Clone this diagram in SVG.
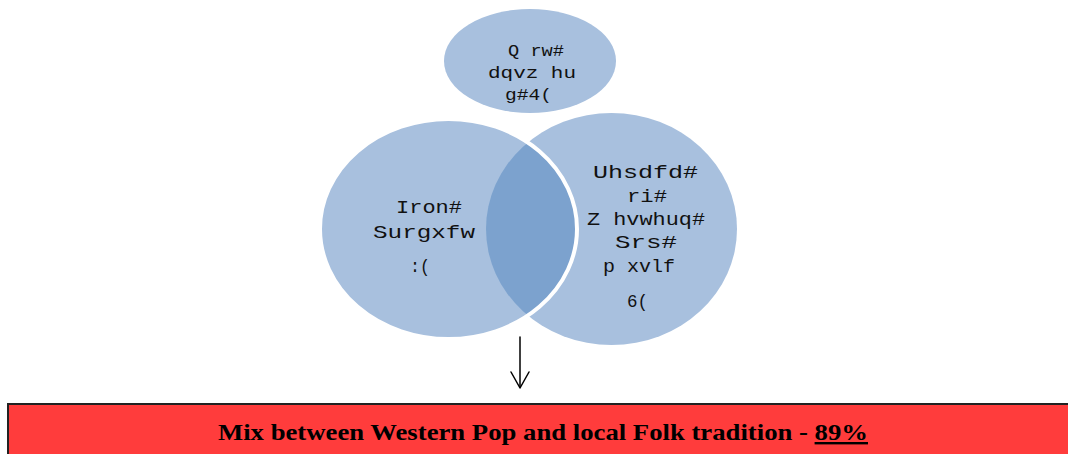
<svg xmlns="http://www.w3.org/2000/svg" width="1068" height="454" viewBox="0 0 1068 454">
  <style>
    .bubble { fill: #A8C0DE; }
    .overlap { fill: #7CA2CE; }
    .rim { fill: none; stroke: #FFFFFF; stroke-width: 4; }
    .lbl { font-family: "Liberation Mono", "DejaVu Sans Mono", monospace; font-size: 19px; fill: #111111; }
    .lbl-sm { font-size: 17px; }
    .wire { fill: none; stroke: #000000; stroke-width: 1.5; stroke-linecap: round; stroke-linejoin: round; }
    .banner { fill: #FF3C3C; stroke: #222222; stroke-width: 2; }
    .banner-text { font-family: "Liberation Serif", "Times New Roman", serif; font-size: 24px; font-weight: bold; fill: #000000; }
  </style>
  <defs>
    <clipPath id="leftClip">
      <ellipse cx="448.5" cy="229" rx="128.5" ry="110"/>
    </clipPath>
  </defs>

  <rect width="1068" height="454" fill="#FFFFFF"/>

  <!-- top bubble -->
  <g id="node-top">
    <ellipse class="bubble" cx="530" cy="61" rx="86" ry="52"/>
    <text class="lbl lbl-sm" x="508" y="56" textLength="56" lengthAdjust="spacingAndGlyphs">Q rw#</text>
    <text class="lbl lbl-sm" x="488" y="78" textLength="88" lengthAdjust="spacingAndGlyphs">dqvz hu</text>
    <text class="lbl lbl-sm" x="505" y="100" textLength="47" lengthAdjust="spacingAndGlyphs">g#4(</text>
  </g>

  <!-- right bubble -->
  <g id="node-right">
    <ellipse class="bubble" cx="611.5" cy="229" rx="125.5" ry="116"/>
    <text class="lbl" x="593" y="178" textLength="105" lengthAdjust="spacingAndGlyphs">Uhsdfd#</text>
    <text class="lbl" x="627" y="202" textLength="40" lengthAdjust="spacingAndGlyphs">ri#</text>
    <text class="lbl" x="587" y="225" textLength="118" lengthAdjust="spacingAndGlyphs">Z hvwhuq#</text>
    <text class="lbl" x="615" y="248" textLength="62" lengthAdjust="spacingAndGlyphs">Srs#</text>
    <text class="lbl" x="603" y="272" textLength="72" lengthAdjust="spacingAndGlyphs">p xvlf</text>
    <text class="lbl" x="627" y="307" textLength="21" lengthAdjust="spacingAndGlyphs">6(</text>
  </g>

  <!-- left bubble, with the shared lens shaded darker -->
  <g id="node-left">
    <ellipse class="bubble" cx="448.5" cy="229" rx="128.5" ry="110"/>
    <ellipse class="overlap" cx="611.5" cy="229" rx="125.5" ry="116" clip-path="url(#leftClip)"/>
    <ellipse class="rim" cx="448.5" cy="229" rx="128.5" ry="110"/>
    <text class="lbl" x="396" y="213" textLength="66" lengthAdjust="spacingAndGlyphs">Iron#</text>
    <text class="lbl" x="373" y="238" textLength="102" lengthAdjust="spacingAndGlyphs">Surgxfw</text>
    <text class="lbl" x="410" y="272" textLength="20" lengthAdjust="spacingAndGlyphs">:(</text>
  </g>

  <!-- connectors -->
  <g id="connectors">
    <line class="wire" x1="520" y1="337" x2="520" y2="387"/>
    <polyline class="wire" points="511,372 520,388 529,372"/>
  </g>

  <!-- result banner -->
  <g id="node-result">
    <rect class="banner" x="8" y="404" width="1075" height="70"/>
    <text class="banner-text" x="218" y="440" textLength="650" lengthAdjust="spacingAndGlyphs">Mix between Western Pop and local Folk tradition - <tspan text-decoration="underline">89%</tspan></text>
  </g>
</svg>
